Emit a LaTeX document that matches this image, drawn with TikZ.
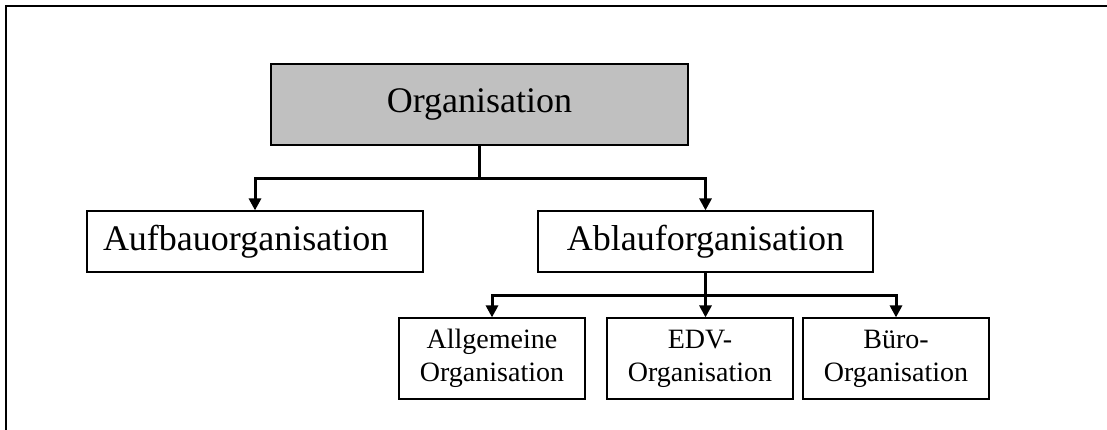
\documentclass[tikz,border=0pt]{standalone}
\usepackage{fontspec}
\setmainfont{Liberation Serif}
\usepackage{xcolor}
\usetikzlibrary{arrows.meta}

\definecolor{orggray}{HTML}{C0C0C0}

\begin{document}
\begin{tikzpicture}[x=1pt, y=-1pt]
        \tikzstyle{bigbox}=[draw=black, line width=1.2pt, inner sep=0pt, minimum height=61pt, font=\fontsize{36}{40}\selectfont]
        \tikzstyle{smallbox}=[draw=black, line width=1.2pt, inner sep=0pt, minimum width=186pt, minimum height=81pt, align=center, font=\fontsize{28}{33}\selectfont]
        \tikzstyle{arr}=[line width=3pt, -{Triangle[width=12pt, length=12pt]}]

        \useasboundingbox (0,0) rectangle (1107,430);
        \clip (0,0) rectangle (1107,430);
        \draw[line width=2pt] (6,6) rectangle (1130,450);

        % Nodes
        \node[bigbox, fill=orggray, minimum width=417pt, minimum height=81pt] (org) at (479.5, 104.5) {\raisebox{-2pt}{Organisation}};

        \node[bigbox, text width=304pt, inner xsep=16pt, align=left] (aufbau) at (255, 241.5) {Aufbauorganisation};
        \node[bigbox, minimum width=335pt] (ablauf) at (705.5, 241.5) {Ablauforganisation};

        \node[smallbox] (allg) at (492, 358.5) {Allgemeine\\Organisation};
        \node[smallbox] (edv) at (700, 358.5) {EDV-\\Organisation};
        \node[smallbox] (buero) at (896, 358.5) {Büro-\\Organisation};

        % Edges
        \draw[arr] (org.south) -- ++(0, 33) -| (aufbau.north);
        \draw[arr] (org.south) -- ++(0, 33) -| (ablauf.north);

        \draw[arr] (ablauf.south) -- ++(0, 23) -| (allg.north);
        \draw[arr] (ablauf.south) -- (ablauf.south |- edv.north);
        \draw[arr] (ablauf.south) -- ++(0, 23) -| (buero.north);

    \end{tikzpicture}
\end{document}
